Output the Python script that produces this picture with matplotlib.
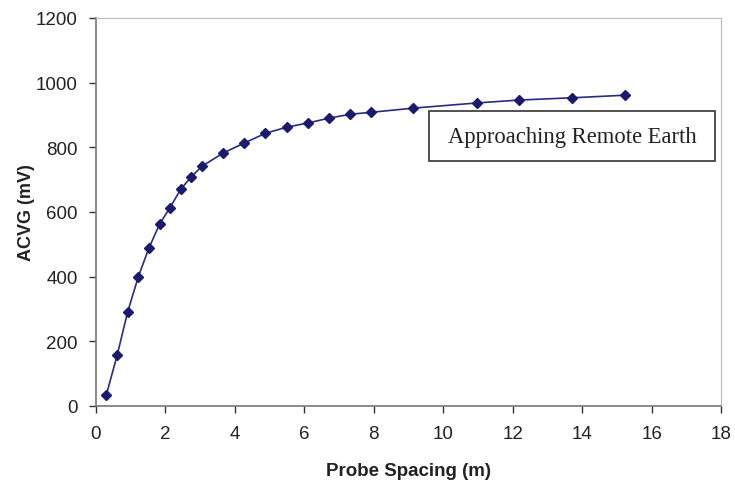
import matplotlib.pyplot as plt
from matplotlib.patches import Rectangle

# probe spacing (m) and ACVG reading (mV)
spacing = [0.3, 0.61, 0.91, 1.22, 1.52, 1.83, 2.13, 2.44, 2.74, 3.05,
           3.66, 4.27, 4.88, 5.49, 6.10, 6.71, 7.32, 7.92, 9.14, 10.97,
           12.19, 13.72, 15.24]
acvg = [35, 157, 290, 400, 487, 562, 613, 670, 708, 741,
        782, 813, 843, 862, 875, 890, 902, 908, 921, 937,
        946, 953, 961]

xticks = list(range(0, 19, 2))
yticks = list(range(0, 1201, 200))

fig = plt.figure(figsize=(7.35, 4.85), dpi=100)
ax = fig.add_axes([0.1306, 0.161, 0.8504, 0.800])

ax.plot(spacing, acvg, color="#2a2a85", linewidth=1.2, marker="D",
        markersize=5, markerfacecolor="#1a1a6e", markeredgecolor="#1a1a6e")

ax.set_xlim(0, 18)
ax.set_ylim(0, 1200)
ax.set_xticks(xticks)
ax.set_yticks(yticks)
for lab in ax.get_xticklabels() + ax.get_yticklabels():
    lab.set_fontfamily("Liberation Sans")
    lab.set_fontsize(13.5)
    lab.set_color("#222222")
ax.tick_params(direction="out", length=5, width=1, color="#333333")
ax.tick_params(axis="x", pad=9)
ax.tick_params(axis="y", pad=8)

for side in ["top", "right"]:
    ax.spines[side].set_color("#bbbbbb")
for side in ["left", "bottom"]:
    ax.spines[side].set_color("#777777")
    ax.spines[side].set_linewidth(1.2)

ax.set_xlabel("Probe Spacing (m)", fontsize=13.5, fontweight="bold",
              family="Liberation Sans", color="#222222", labelpad=14)
ax.set_ylabel("ACVG (mV)", fontsize=13, fontweight="bold",
              family="Liberation Sans", color="#222222", labelpad=1)

# annotation box
fig.patches.append(Rectangle((429 / 735, 1 - 162 / 485), 286 / 735, 50 / 485,
                             transform=fig.transFigure, facecolor="white",
                             edgecolor="#333333", linewidth=1.2, zorder=5))
fig.text(0.778, 0.7175, "Approaching Remote Earth",
         family="Liberation Serif", fontsize=16.3, color="#222222",
         va="center", ha="center", zorder=6)

fig.savefig("out.png", dpi=100)
